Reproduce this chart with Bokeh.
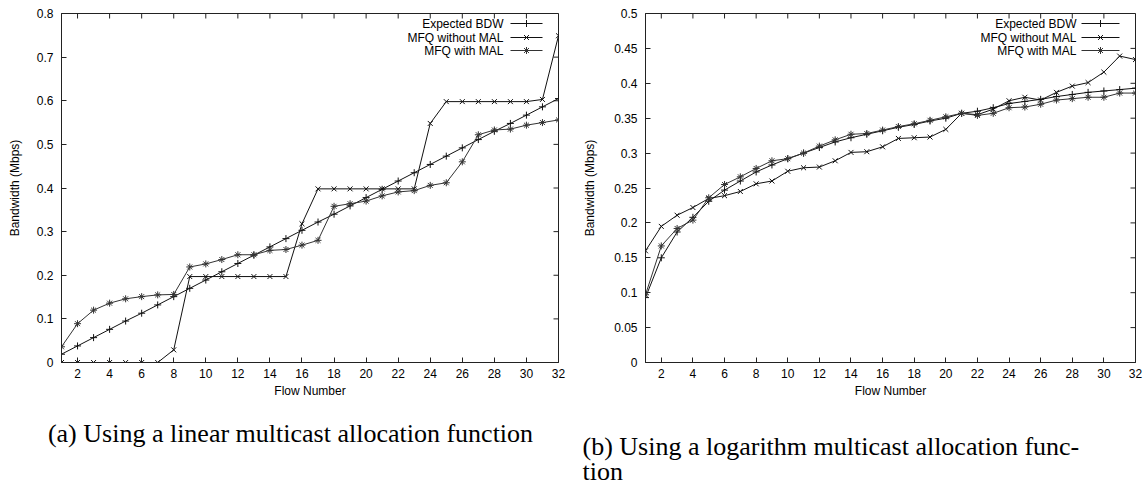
from bokeh.plotting import figure
from bokeh.models import Range1d, FixedTicker
from bokeh.layouts import column, row
from bokeh.embed import file_html
from bokeh.resources import INLINE
from bokeh.core.properties import value

# ---------------- data ----------------
flows = list(range(1, 33))
x_ticks = [2, 4, 6, 8, 10, 12, 14, 16, 18, 20, 22, 24, 26, 28, 30, 32]

series_names = ["Expected BDW", "MFQ without MAL", "MFQ with MAL"]

# (a) linear multicast allocation function
lin_expected = [0.019, 0.038, 0.057, 0.076, 0.095, 0.113, 0.132, 0.151, 0.170, 0.189,
                0.208, 0.227, 0.246, 0.265, 0.284, 0.303, 0.322, 0.340, 0.359, 0.378,
                0.397, 0.416, 0.435, 0.454, 0.473, 0.492, 0.511, 0.530, 0.548, 0.567,
                0.586, 0.605]
lin_without = [0.0, 0.0, 0.0, 0.0, 0.0, 0.0, 0.0, 0.029, 0.197, 0.197,
               0.197, 0.197, 0.197, 0.197, 0.197, 0.318, 0.398, 0.398, 0.398, 0.398,
               0.398, 0.398, 0.398, 0.548, 0.598, 0.598, 0.598, 0.598, 0.598, 0.598,
               0.603, 0.749]
lin_with = [0.036, 0.089, 0.120, 0.136, 0.146, 0.151, 0.155, 0.156, 0.219, 0.226,
            0.236, 0.247, 0.247, 0.257, 0.259, 0.269, 0.280, 0.358, 0.364, 0.370,
            0.382, 0.391, 0.394, 0.406, 0.412, 0.460, 0.522, 0.533, 0.535, 0.544,
            0.550, 0.556]
lin_y_ticks = [0, 0.1, 0.2, 0.3, 0.4, 0.5, 0.6, 0.7, 0.8]
lin_y_labels = ["0", "0.1", "0.2", "0.3", "0.4", "0.5", "0.6", "0.7", "0.8"]

# (b) logarithm multicast allocation function
log_expected = [0.093, 0.150, 0.187, 0.208, 0.231, 0.247, 0.260, 0.273, 0.283, 0.292,
                0.300, 0.308, 0.316, 0.322, 0.327, 0.332, 0.337, 0.341, 0.346, 0.350,
                0.357, 0.360, 0.365, 0.371, 0.374, 0.377, 0.381, 0.384, 0.387, 0.389,
                0.391, 0.393]
log_without = [0.160, 0.195, 0.211, 0.222, 0.235, 0.239, 0.245, 0.256, 0.260, 0.274,
               0.279, 0.280, 0.289, 0.301, 0.302, 0.309, 0.321, 0.322, 0.323, 0.334,
               0.357, 0.355, 0.363, 0.375, 0.380, 0.376, 0.387, 0.396, 0.401, 0.416,
               0.439, 0.434]
log_with = [0.097, 0.167, 0.192, 0.204, 0.236, 0.255, 0.266, 0.278, 0.289, 0.292,
            0.300, 0.310, 0.319, 0.327, 0.328, 0.333, 0.338, 0.342, 0.347, 0.352,
            0.357, 0.354, 0.357, 0.365, 0.366, 0.370, 0.376, 0.378, 0.380, 0.380,
            0.386, 0.386]
log_y_ticks = [0, 0.05, 0.1, 0.15, 0.2, 0.25, 0.3, 0.35, 0.4, 0.45, 0.5]
log_y_labels = ["0", "0.05", "0.1", "0.15", "0.2", "0.25", "0.3", "0.35", "0.4", "0.45", "0.5"]

x_label = "Flow Number"
y_label = "Bandwidth (Mbps)"
caption_a = "(a) Using a linear multicast allocation function"
caption_b1 = "(b) Using a logarithm multicast allocation func-"
caption_b2 = "tion"

# ---------------- style ----------------
SANS = "Liberation Sans"
SERIF = "Liberation Serif"
markers = ["cross", "x", "asterisk"]
line_colors = ["#111111", "#111111", "#333333"]
FRAME_H = 349
TICK_LEN = 5
X_MIN, X_MAX = 1, 32


def make_chart(series, y_max, y_ticks, y_labels, border_left, frame_w, border_right,
               leg_text_dx, leg_s0, leg_s1, leg_m):
    p = figure(frame_width=frame_w, frame_height=FRAME_H,
               x_range=Range1d(X_MIN, X_MAX), y_range=Range1d(0, y_max),
               min_border_left=border_left, min_border_right=border_right,
               min_border_top=13, min_border_bottom=52,
               toolbar_location=None, output_backend="svg",
               background_fill_color="white", border_fill_color="white")
    p.grid.visible = False
    p.outline_line_color = "#222222"
    p.outline_line_width = 1

    for ax in (p.xaxis[0], p.yaxis[0]):
        ax.axis_line_color = "#222222"
        ax.major_tick_line_color = "#222222"
        ax.major_tick_in = TICK_LEN
        ax.major_tick_out = 0
        ax.minor_tick_line_color = None
        ax.major_label_text_font = SANS
        ax.major_label_text_font_size = "12px"
        ax.major_label_text_color = "black"
        ax.axis_label_text_font = SANS
        ax.axis_label_text_font_size = "12px"
        ax.axis_label_text_font_style = "normal"
        ax.axis_label_text_color = "black"

    p.xaxis.ticker = FixedTicker(ticks=x_ticks)
    p.xaxis.axis_label = x_label
    p.xaxis.major_label_standoff = 6
    p.xaxis.axis_label_standoff = 3

    p.yaxis.ticker = FixedTicker(ticks=y_ticks)
    p.yaxis.major_label_overrides = dict(zip(y_ticks, y_labels))
    p.yaxis.axis_label = y_label
    p.yaxis.major_label_standoff = 8
    p.yaxis.axis_label_standoff = 12 if y_max > 0.6 else 14

    ux = (X_MAX - X_MIN) / frame_w
    uy = y_max / FRAME_H

    # mirrored tick marks on the top and right edges (gnuplot style)
    p.segment(x0=x_ticks, y0=[y_max] * len(x_ticks), x1=x_ticks,
              y1=[y_max - TICK_LEN * uy] * len(x_ticks), line_color="#222222", line_width=1)
    p.segment(x0=[X_MAX] * len(y_ticks), y0=y_ticks, x1=[X_MAX - TICK_LEN * ux] * len(y_ticks),
              y1=y_ticks, line_color="#222222", line_width=1)

    for ys, mk, col in zip(series, markers, line_colors):
        p.line(flows, ys, line_color=col, line_width=1)
        p.scatter(flows, ys, marker=mk, size=7, line_color=col, line_width=1)

    # legend (gnuplot style: label then sample), placed relative to the frame corner
    rows_dy = [10, 24, 37]
    for name, mk, col, dy in zip(series_names, markers, line_colors, rows_dy):
        yy = y_max - dy * uy
        p.text(x=[X_MAX - leg_text_dx * ux], y=[yy], text=[name],
               text_font=value(SANS), text_font_size="12px", text_color="black",
               text_align="right", text_baseline="middle")
        p.line([X_MAX - leg_s0 * ux, X_MAX - leg_s1 * ux], [yy, yy], line_color=col, line_width=1)
        p.scatter([X_MAX - leg_m * ux], [yy], marker=mk, size=7, line_color=col, line_width=1)
    return p


p1 = make_chart([lin_expected, lin_without, lin_with], 0.8, lin_y_ticks, lin_y_labels,
                61, 497, 14, 55, 48, 16, 32)
p2 = make_chart([log_expected, log_without, log_with], 0.5, log_y_ticks, log_y_labels,
                73, 490, 9, 59, 54, 16, 35)

cap = figure(width=1144, height=75, x_range=Range1d(0, 1144), y_range=Range1d(489, 414),
             x_axis_location=None, y_axis_location=None, min_border=0,
             toolbar_location=None, output_backend="svg")
cap.grid.visible = False
cap.outline_line_color = None
cap.text(x=[290], y=[433], text=[caption_a], text_font=value(SERIF), text_font_size="26px",
         text_align="center", text_baseline="middle", text_color="black")
cap.text(x=[582, 582], y=[446, 471], text=[caption_b1, caption_b2], text_font=value(SERIF),
         text_font_size="26px", text_align="left", text_baseline="middle", text_color="black")

layout = column(row(p1, p2), cap)
open("out.html", "w").write(file_html(layout, INLINE))
